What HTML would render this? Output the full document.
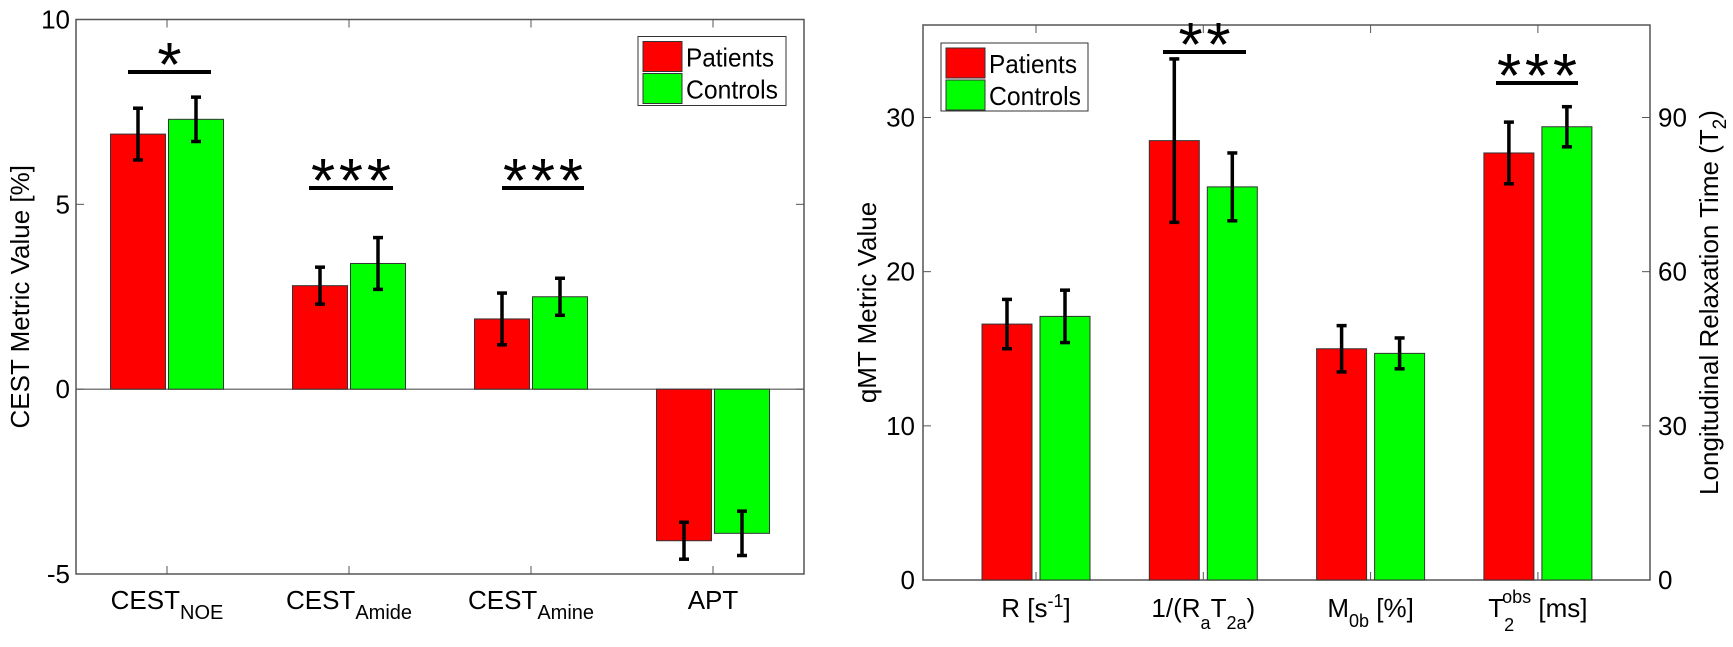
<!DOCTYPE html>
<html><head><meta charset="utf-8"><style>
html,body{margin:0;padding:0;background:#fff}
svg{display:block;font-family:"Liberation Sans",Arial,sans-serif}
</style></head><body>
<svg id="fig" width="1733" height="647" viewBox="0 0 1733 647"></svg>
<script>
// Left chart data
const cestCategories = ["NOE","Amide","Amine","APT"];
const cestPatients = [6.9, 2.8, 1.9, -4.1];
const cestPatientsErr = [0.7, 0.5, 0.7, 0.5];
const cestControls = [7.3, 3.4, 2.5, -3.9];
const cestControlsErr = [0.6, 0.7, 0.5, 0.6];
const cestTicks = [-5, 0, 5, 10];
const cestSig = ["*", "***", "***", ""];
// Right chart data
const qmtCategories = ["R","RaT2a","M0b","T2"];
const qmtPatients = [16.6, 28.5, 15.0, 27.7];
const qmtPatientsErr = [1.6, 5.3, 1.5, 2.0];
const qmtControls = [17.1, 25.5, 14.7, 29.4];
const qmtControlsErr = [1.7, 2.2, 1.0, 1.3];
const qmtTicks = [0, 10, 20, 30];
const qmtRightTicks = [0, 30, 60, 90];
const qmtSig = ["", "**", "", "***"];

const NS="http://www.w3.org/2000/svg";
const svg=document.getElementById('fig');
function el(tag,attrs,parent,text){const e=document.createElementNS(NS,tag);for(const k in attrs)e.setAttribute(k,attrs[k]);if(text!==undefined)e.textContent=text;(parent||svg).appendChild(e);return e;}

function drawBars(g,cats,pv,pe,cv,ce,sx,sy,bw){
  for(let i=0;i<cats.length;i++){
    const cx=sx(i);
    [[pv,pe,'#ff0000',-29,'patients'],[cv,ce,'#00ff00',29,'controls']].forEach(([v,e,c,off,nm])=>{
      const x=cx+off-bw/2, y0=sy(0), y1=sy(v[i]);
      const r=el('rect',{x:x,y:Math.min(y0,y1),width:bw,height:Math.abs(y1-y0),fill:c,stroke:'#333','stroke-width':1},g);
      
      
      const ex=cx+off, ya=sy(v[i]+e[i]), yb=sy(v[i]-e[i]);
      const eg=el('g',{stroke:'#000','stroke-width':3.5},g);
      
      
      el('line',{x1:ex,y1:ya,x2:ex,y2:yb},eg);
      el('line',{x1:ex-5,y1:ya,x2:ex+5,y2:ya},eg);
      el('line',{x1:ex-5,y1:yb,x2:ex+5,y2:yb},eg);
    });
  }
}
function legend(x,y,w,h){
  const g=el('g',{},svg);
  
  el('rect',{x:x,y:y,width:w,height:h,fill:'#fff',stroke:'#333','stroke-width':1},g);
  const items=[['Patients','#ff0000'],['Controls','#00ff00']];
  items.forEach((it,k)=>{
    const yy=y+5+k*32;
    const e=el('g',{},g);
    
    el('rect',{x:x+5,y:yy,width:39,height:30,fill:it[1],stroke:'#333'},e);
    el('text',{x:x+48,y:yy+25,'font-size':26,textLength:it[0]=='Patients'?88:92,lengthAdjust:'spacingAndGlyphs'},e,it[0]);
  });
}
function sig(x1,x2,ly,txt,name){
  const g=el('g',{},svg);
  
  el('line',{x1:x1,y1:ly,x2:x2,y2:ly,stroke:'#000','stroke-width':4},g);
  const n=txt.length, pitch=28, cx=(x1+x2)/2;
  el('text',{x:cx,y:ly+14,'font-size':62,'text-anchor':'middle',textLength:(n-1)*pitch+24,lengthAdjust:'spacing'},g,txt);
}

// ---- Left chart
(function(){
  const L=76,R=804,T=19.5,B=574,ymin=-5,ymax=10;
  const sy=v=>B-(v-ymin)/(ymax-ymin)*(B-T);
  const sx=i=>167+i*182;
  const g=el('g',{},svg);
  el('rect',{x:L,y:T,width:R-L,height:B-T,fill:'#fff',stroke:'#555','stroke-width':1.5},g);
  cestTicks.forEach(t=>{
    el('line',{x1:L,y1:sy(t),x2:L+8,y2:sy(t),stroke:'#555'},g);
    el('line',{x1:R,y1:sy(t),x2:R-8,y2:sy(t),stroke:'#555'},g);
    const tl=el('text',{x:L-6,y:sy(t)+9,'font-size':26,'text-anchor':'end'},g,String(t));
    
  });
  el('line',{x1:L,y1:sy(0),x2:R,y2:sy(0),stroke:'#555','stroke-width':1.2},g);
  drawBars(g,cestCategories,cestPatients,cestPatientsErr,cestControls,cestControlsErr,sx,sy,55);
  cestCategories.forEach((c,i)=>{
    el('line',{x1:sx(i),y1:B,x2:sx(i),y2:B-8,stroke:'#555'},g);
    el('line',{x1:sx(i),y1:T,x2:sx(i),y2:T+8,stroke:'#555'},g);
    const t=el('text',{x:sx(i),y:609,'font-size':26,'text-anchor':'middle'},g);
    
    if(c==='APT'){t.textContent='APT';}
    else{el('tspan',{},t,'CEST');el('tspan',{'font-size':20,dy:10},t,c);}
  });
  const yl=el('text',{x:0,y:0,'font-size':26,'text-anchor':'middle',transform:'translate(29,'+sy(2.5)+') rotate(-90)'},svg,'CEST Metric Value [%]');
  
  legend(638,36.5,148,69);
  const lines=[[128,211,72],[309,393,188],[502,584,188]];
  cestSig.forEach((s,i)=>{if(s)sig(lines[i][0],lines[i][1],lines[i][2],s,'significance-'+cestCategories[i]);});
})();

// ---- Right chart
(function(){
  const L=923,R=1650,T=25,B=580,ymin=0,ymax=36;
  const sy=v=>B-(v-ymin)/(ymax-ymin)*(B-T);
  const sx=i=>1036+i*167.3;
  const g=el('g',{},svg);
  el('rect',{x:L,y:T,width:R-L,height:B-T,fill:'#fff',stroke:'#555','stroke-width':1.5},g);
  qmtTicks.forEach(t=>{
    el('line',{x1:L,y1:sy(t),x2:L+8,y2:sy(t),stroke:'#555'},g);
    const tl=el('text',{x:L-8,y:sy(t)+9,'font-size':26,'text-anchor':'end'},g,String(t));
    
  });
  qmtRightTicks.forEach(t=>{
    const y=sy(t/3);
    el('line',{x1:R,y1:y,x2:R-8,y2:y,stroke:'#555'},g);
    const tl=el('text',{x:R+8,y:y+9,'font-size':26},g,String(t));
    
  });
  drawBars(g,qmtCategories,qmtPatients,qmtPatientsErr,qmtControls,qmtControlsErr,sx,sy,50);
  const labels=[
    [['R [s',0],['-1',-10,18],[']',10]],
    [['1/(R',0],['a',12,18],['T',-12],['2a',12,18],[')',-12]],
    [['M',0],['0b',10,18],[' [%]',-10]],
    [['T',0],['2',14,18],['obs',-28,18],[' [ms]',14]]
  ];
  qmtCategories.forEach((c,i)=>{
    el('line',{x1:sx(i),y1:B,x2:sx(i),y2:B-8,stroke:'#555'},g);
    el('line',{x1:sx(i),y1:T,x2:sx(i),y2:T+8,stroke:'#555'},g);
    const t=el('text',{x:sx(i),y:617,'font-size':26,'text-anchor':'middle'},g);
    
    labels[i].forEach(p=>{const a={dy:p[1]};if(p[2])a['font-size']=p[2];
      if(c==='T2'&&p[0]==='obs'){a.dx=-12;}
      el('tspan',a,t,p[0]);});
  });
  const yl=el('text',{x:0,y:0,'font-size':26,'text-anchor':'middle',transform:'translate(876,'+sy(18)+') rotate(-90)'},svg,'qMT Metric Value');
  
  const yr=el('text',{x:0,y:0,'font-size':26,'text-anchor':'middle',transform:'translate(1718,'+sy(18)+') rotate(-90)'},svg);
  
  el('tspan',{},yr,'Longitudinal Relaxation Time (T');el('tspan',{'font-size':19,dy:8},yr,'2');el('tspan',{dy:-8},yr,')');
  legend(941,43,147,68);
  const lines=[null,[1163,1246,52],null,[1496,1578,83]];
  qmtSig.forEach((s,i)=>{if(s)sig(lines[i][0],lines[i][1],lines[i][2],s,'significance-'+qmtCategories[i]);});
})();
</script>
</body></html>
